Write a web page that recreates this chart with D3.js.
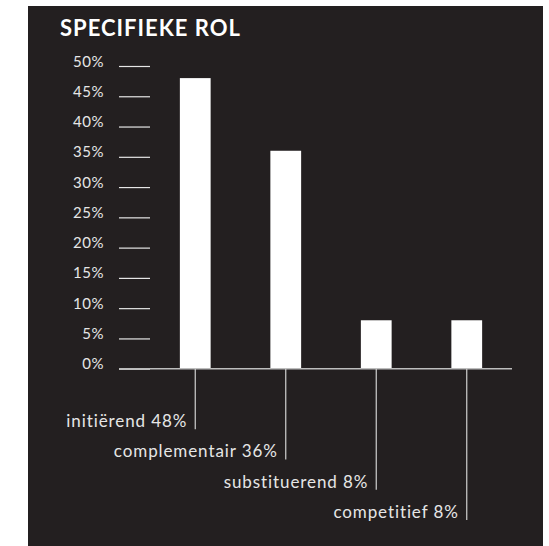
<!DOCTYPE html>
<html>
<head>
<meta charset="utf-8">
<script src="https://cdn.jsdelivr.net/npm/d3@7"></script>
<style>
  body { margin: 0; background: #fff; }
  text { font-family: Lato, "Open Sans", sans-serif; }
</style>
</head>
<body>
<div id="chart"></div>
<script>
const title = "SPECIFIEKE ROL";
const categories = ["initiërend", "complementair", "substituerend", "competitief"];
const values = [48, 36, 8, 8];
const yTicks = [0, 5, 10, 15, 20, 25, 30, 35, 40, 45, 50];

const W = 549, H = 546;
const bg = "#231f20";

const svg = d3.select("#chart").append("svg")
    .attr("width", W)
    .attr("height", H);

// dark panel
svg.append("rect")
    .attr("x", 28).attr("y", 6)
    .attr("width", 543 - 28).attr("height", H - 6)
    .attr("fill", bg);

svg.append("text")
    .attr("x", 60).attr("y", 36)
    .attr("fill", "#fff")
    .attr("font-size", 22)
    .attr("font-weight", "bold")
    .attr("letter-spacing", 1)
    .text(title);

const y = d3.scaleLinear()
    .domain([0, 50])
    .range([368.7, 66]);

const x = d3.scaleBand()
    .domain(categories)
    .range([150, 512])
    .paddingInner(0.66)
    .paddingOuter(0.33);

const tickLen = 31;

// y axis: short lines right of the labels
const yAxis = svg.append("g")
    .attr("transform", "translate(150,0)")
    .call(d3.axisLeft(y)
        .tickValues(yTicks)
        .tickSize(tickLen)
        .tickPadding(15)
        .tickFormat(d => d + "%"));
yAxis.select(".domain").remove();
yAxis.selectAll(".tick line")
    .attr("stroke", "#e6e6e6")
    .attr("stroke-width", 1.2);
yAxis.selectAll(".tick text")
    .attr("dy", 0)
    .attr("fill", "#e6e6e6")
    .attr("font-size", 15)
    .attr("letter-spacing", 0.5)
    .attr("font-family", "Lato, sans-serif");

// bars
svg.append("g")
    .selectAll("rect")
    .data(values)
    .enter()
    .append("rect")
        .attr("x", (d, i) => x(categories[i]))
        .attr("y", d => y(d))
        .attr("width", x.bandwidth())
        .attr("height", d => y(0) - y(d))
        .attr("fill", "#fff");

// baseline
svg.append("line")
    .attr("x1", 150 - tickLen)
    .attr("x2", x.range()[1])
    .attr("y1", y(0))
    .attr("y2", y(0))
    .attr("stroke", "#bdbdbd")
    .attr("stroke-width", 1.5);

// leader lines with labels
const labelDrop = 60.5, rowStep = 30.3;
const labels = svg.append("g")
    .selectAll("g")
    .data(values)
    .enter()
    .append("g")
        .attr("transform", (d, i) =>
            "translate(" + (x(categories[i]) + x.bandwidth() / 2) + "," + y(0) + ")");

labels.append("line")
    .attr("y1", 0)
    .attr("y2", (d, i) => labelDrop + i * rowStep)
    .attr("stroke", "#d0d0d0")
    .attr("stroke-width", 1.2);

labels.append("text")
    .attr("x", -8)
    .attr("y", (d, i) => labelDrop + i * rowStep - 2)
    .attr("text-anchor", "end")
    .attr("fill", "#e6e6e6")
    .attr("font-size", 17)
    .attr("letter-spacing", 0.9)
    .text((d, i) => categories[i] + " " + d + "%");
</script>
</body>
</html>
